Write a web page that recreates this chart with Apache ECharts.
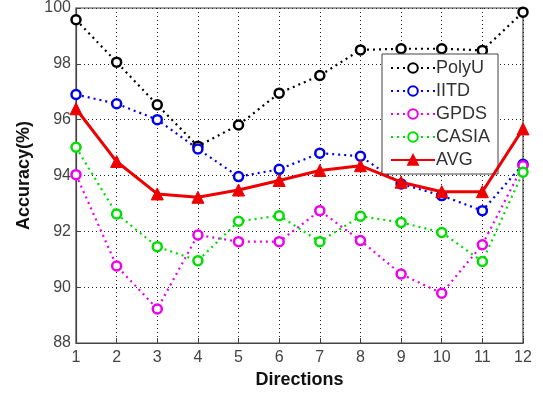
<!DOCTYPE html>
<html>
<head>
<meta charset="utf-8">
<script src="https://cdn.jsdelivr.net/npm/echarts@6/dist/echarts.min.js"></script>
<style>
html, body { margin: 0; padding: 0; background: #fff; }
#main { width: 543px; height: 394px; }
</style>
</head>
<body>
<div id="main"></div>
<script>
// directions 1..12
var directions = [1, 2, 3, 4, 5, 6, 7, 8, 9, 10, 11, 12];

var polyU = [99.58, 98.06, 96.53, 95.05, 95.81, 96.95, 97.58, 98.50, 98.54, 98.54, 98.48, 99.85];
var iitd  = [96.90, 96.57, 96.00, 94.95, 93.96, 94.22, 94.80, 94.69, 93.70, 93.28, 92.74, 94.40];
var gpds  = [94.03, 90.76, 89.22, 91.87, 91.63, 91.63, 92.74, 91.67, 90.47, 89.78, 91.52, 94.35];
var casia = [95.01, 92.62, 91.45, 90.95, 92.36, 92.56, 91.63, 92.54, 92.32, 91.96, 90.92, 94.12];
var avg   = [96.39, 94.50, 93.34, 93.22, 93.48, 93.82, 94.18, 94.35, 93.76, 93.42, 93.42, 95.67];

var yTicks = [88, 90, 92, 94, 96, 98, 100];

function pairs(vals) {
	return directions.map(function(d, i) { return [d, vals[i]]; });
}

function dotSeries(name, vals, color) {
	return {
		name: name,
		type: 'line',
		data: pairs(vals),
		symbol: 'circle',
		symbolSize: 9,
		itemStyle: { color: '#fff', borderColor: color, borderWidth: 2.5 },
		lineStyle: { color: color, width: 2.2, type: [2, 4] },
		emphasis: { disabled: true }
	};
}

var chart = echarts.init(document.getElementById('main'));

var option = {
	animation: false,
	backgroundColor: '#fff',
	textStyle: { fontFamily: 'Liberation Sans, Arial, sans-serif' },
	grid: {
		left: 76, right: 20, top: 8, bottom: 51,
		outerBoundsMode: 'none',
		show: true, borderColor: '#444', borderWidth: 1.2
	},
	legend: {
		orient: 'vertical',
		left: 382, top: 54,
		width: 112,
		padding: [5, 8, 5, 8],
		itemGap: 5,
		itemWidth: 44,
		itemHeight: 12,
		backgroundColor: '#fff',
		borderColor: '#444',
		borderWidth: 1,
		textStyle: { fontSize: 18, color: '#333', padding: [0, 0, 0, -4] },
		data: ['PolyU', 'IITD', 'GPDS', 'CASIA', 'AVG']
	},
	xAxis: {
		type: 'value',
		min: 1, max: 12, interval: 1,
		name: 'Directions',
		nameLocation: 'middle',
		nameGap: 28,
		nameTextStyle: { fontSize: 18, fontWeight: 'bold', color: '#111' },
		axisLine: { show: true, lineStyle: { color: '#444', width: 1.2 } },
		axisTick: { show: true, inside: true, length: 5, lineStyle: { color: '#444' } },
		axisLabel: { fontSize: 16, color: '#444', margin: 7 },
		splitLine: { show: true, lineStyle: { color: '#222', type: [1, 3], width: 1 } }
	},
	yAxis: {
		type: 'value',
		min: yTicks[0], max: yTicks[yTicks.length - 1], interval: 2,
		name: 'Accuracy(%)',
		nameLocation: 'middle',
		nameGap: 41,
		nameTextStyle: { fontSize: 18, fontWeight: 'bold', color: '#111' },
		axisLine: { show: true, lineStyle: { color: '#444', width: 1.2 } },
		axisTick: { show: true, inside: true, length: 5, lineStyle: { color: '#444' } },
		axisLabel: { fontSize: 16, color: '#444', margin: 5 },
		splitLine: { show: true, lineStyle: { color: '#222', type: [1, 3], width: 1 } }
	},
	series: [
		dotSeries('PolyU', polyU, '#000000'),
		dotSeries('IITD', iitd, '#0000ee'),
		dotSeries('GPDS', gpds, '#ee00ee'),
		dotSeries('CASIA', casia, '#00dd00'),
		{
			name: 'AVG',
			type: 'line',
			data: pairs(avg),
			symbol: 'triangle',
			symbolSize: 12,
			itemStyle: { color: '#ee0000', borderColor: '#ee0000', borderWidth: 1 },
			lineStyle: { color: '#ee0000', width: 3 },
			z: 5,
			emphasis: { disabled: true }
		}
	]
};

chart.setOption(option);
</script>
</body>
</html>
